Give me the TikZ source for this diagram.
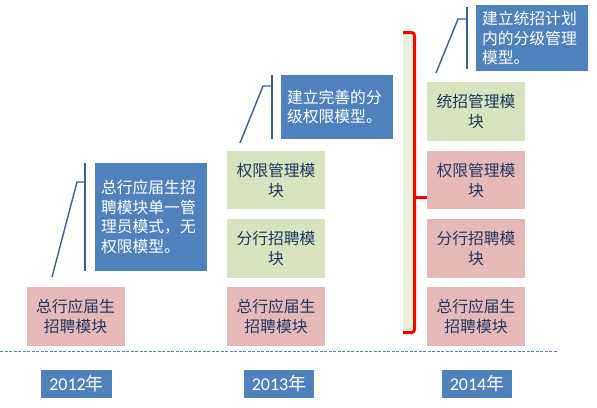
\documentclass[tikz,border=0pt]{standalone}
\usepackage{fontspec}
\setmainfont{Noto Sans CJK SC}
\newfontfamily\yearfont{Carlito}
\definecolor{pinkbox}{HTML}{E6B9B8}
\definecolor{greenbox}{HTML}{D7E4BD}
\definecolor{bluebox}{HTML}{4F81BD}
\definecolor{bandfill}{HTML}{EBF1DE}
\definecolor{navytext}{HTML}{1F3864}
\definecolor{calloutline}{HTML}{3A5F8F}
\definecolor{dashline}{HTML}{4F81BD}
\begin{document}
\begin{tikzpicture}[x=1pt,y=-1pt,
  modbox/.style={inner sep=0pt, minimum width=98pt, align=center, text=navytext,
    font=\fontsize{15.8}{20}\selectfont},
  pinkmod/.style={modbox, fill=pinkbox},
  greenmod/.style={modbox, fill=greenbox},
  notebox/.style={fill=bluebox, inner sep=6pt, minimum width=112pt, text width=100pt,
    align=left, text=white, font=\fontsize{15.8}{19.5}\selectfont},
  yearbox/.style={fill=bluebox, inner sep=0pt, minimum width=70pt, minimum height=28pt,
    text=white, font=\fontsize{18}{20}\selectfont},
  callout/.style={draw=calloutline, line width=1.8pt},
]
\useasboundingbox (0,0) rectangle (597,407);

% 2012
\node[pinkmod, minimum height=59pt] (p1) at (75.5,316.5) {总行应届生\\招聘模块};
\node[notebox, minimum height=108pt] (b1) at (151,217) {总行应届生招\\聘模块单一管\\理员模式，无\\权限模型。};
\coordinate (v1a) at (85,163);
\coordinate (v1b) at (85,271);
\coordinate (k1) at (85,182);
\coordinate (e1) at (77,182);
\coordinate (t1) at (52,277);
\draw[callout] (v1a) -- (v1b);
\draw[callout, line width=1.4pt] (k1) -- (e1) -- (t1);

% 2013
\node[greenmod, minimum height=58pt] (g2a) at (276,180) {权限管理模\\块};
\node[greenmod, minimum height=59pt] (g2b) at (276,248.5) {分行招聘模\\块};
\node[pinkmod, minimum height=59pt] (p2) at (276,316.5) {总行应届生\\招聘模块};
\node[notebox, minimum height=64pt] (b2) at (337,107) {建立完善的分\\级权限模型。};
\coordinate (v2a) at (272,75);
\coordinate (v2b) at (272,139);
\coordinate (k2) at (272,86);
\coordinate (e2) at (263,86);
\coordinate (t2) at (240,143);
\draw[callout] (v2a) -- (v2b);
\draw[callout, line width=1.4pt] (k2) -- (e2) -- (t2);

% 2014 band and brace
\fill[bandfill] (403,31) rectangle (414,334);
\coordinate (br1) at (403,32.5);
\coordinate (br2) at (414.5,32.5);
\coordinate (br3) at (414.5,332.5);
\coordinate (br4) at (403,332.5);
\coordinate (brm) at (414.5,197);
\coordinate (brt) at (428,197);
\draw[red, line width=3pt, rounded corners=3pt] (br1) -- (br2) -- (br3) -- (br4);
\draw[red, line width=3pt] (brm) -- (brt);

% 2014
\node[greenmod, minimum height=59pt] (g3) at (476,111.5) {统招管理模\\块};
\node[pinkmod, minimum height=58pt] (p3a) at (476,180) {权限管理模\\块};
\node[pinkmod, minimum height=59pt] (p3b) at (476,248.5) {分行招聘模\\块};
\node[pinkmod, minimum height=59pt] (p3c) at (476,316.5) {总行应届生\\招聘模块};
\node[notebox, minimum height=62pt] (b3) at (532,38) {建立统招计划\\内的分级管理\\模型。};
\coordinate (v3a) at (467,7);
\coordinate (v3b) at (467,69);
\coordinate (k3) at (467,19);
\coordinate (e3) at (458,19);
\coordinate (t3) at (436,73);
\draw[callout] (v3a) -- (v3b);
\draw[callout, line width=1.4pt] (k3) -- (e3) -- (t3);

% timeline
\coordinate (d1) at (0,351.5);
\coordinate (d2) at (558,351.5);
\draw[dashline, line width=0.8pt, dash pattern=on 3pt off 1.5pt] (d1) -- (d2);

\node[yearbox, minimum width=71pt] (y1) at (76.5,384) {{\yearfont 2012}年};
\node[yearbox] (y2) at (279,384) {{\yearfont 2013}年};
\node[yearbox] (y3) at (477,384) {{\yearfont 2014}年};
\end{tikzpicture}
\end{document}
